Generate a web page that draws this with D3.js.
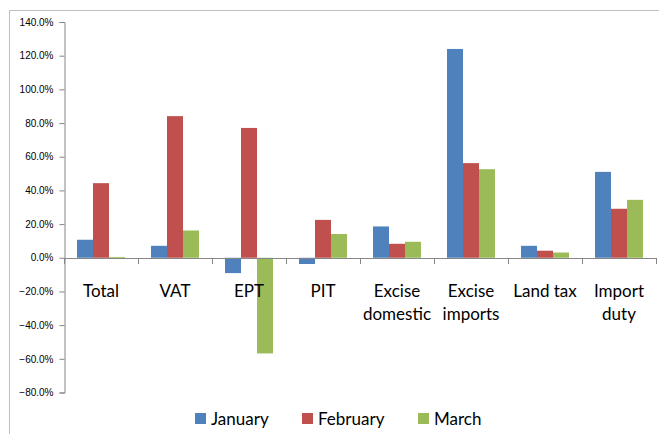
<!DOCTYPE html>
<html>
<head>
<meta charset="utf-8">
<script src="https://cdn.jsdelivr.net/npm/d3@7"></script>
<style>
  body { margin: 0; background: #fff; }
  svg { display: block; }
</style>
</head>
<body>
<script>
// data
let categories = ["Total", "VAT", "EPT", "PIT", "Excise domestic", "Excise imports", "Land tax", "Import duty"];
let catLines = [["Total"], ["VAT"], ["EPT"], ["PIT"], ["Excise", "domestic"], ["Excise", "imports"], ["Land tax"], ["Import", "duty"]];
let series = ["January", "February", "March"];
let january = [0.107, 0.071, -0.091, -0.037, 0.186, 1.24, 0.071, 0.51];
let february = [0.443, 0.841, 0.771, 0.225, 0.083, 0.562, 0.042, 0.291];
let march = [0.005, 0.162, -0.568, 0.141, 0.095, 0.526, 0.031, 0.344];
let yTicks = [-0.8, -0.6, -0.4, -0.2, 0, 0.2, 0.4, 0.6, 0.8, 1.0, 1.2, 1.4];
let colors = ["#4F81BD", "#C0504D", "#9BBB59"];

let width = 659;
let height = 434;
let values = [january, february, march];

let svg = d3.select("body")
            .append("svg")
            .attr("width", width)
            .attr("height", height);

// outer chart frame (only left and top are visible in the crop)
svg.append("path")
   .attr("d", "M9.5,434 V10.5 H659")
   .attr("fill", "none")
   .attr("stroke", "#bfbfbf")
   .attr("stroke-width", 1);

let x = d3.scaleBand()
          .domain(categories)
          .range([64, 656]);

let xs = d3.scaleBand()
           .domain(series)
           .range([13, x.bandwidth() - 13]);

let y = d3.scaleLinear()
          .domain([-0.8, 1.4])
          .range([392.5, 22]);

// bars
series.forEach(function(s, si) {
  svg.append("g")
     .selectAll("rect")
     .data(categories.map((c, i) => ({cat: c, v: values[si][i]})))
     .enter().append("rect")
             .attr("x", d => x(d.cat) + xs(s))
             .attr("width", xs.bandwidth())
             .attr("y", d => y(Math.max(0, d.v)))
             .attr("height", d => Math.abs(y(d.v) - y(0)))
             .attr("fill", colors[si]);
});

// y axis
let yAxis = svg.append("g")
               .attr("transform", "translate(64.5,0)")
               .call(d3.axisLeft(y).tickValues(yTicks).tickFormat(d3.format(".1%")).tickSize(5).tickPadding(6));
yAxis.select(".domain").attr("stroke", "#868686");
yAxis.selectAll(".tick line").attr("stroke", "#868686");
yAxis.selectAll(".tick text")
     .attr("font-family", "Liberation Sans, Arial, sans-serif")
     .attr("font-size", 10)
     .attr("fill", "#000");

// x axis at zero with boundary ticks
let xAxis = svg.append("g");
xAxis.append("line")
     .attr("x1", 64).attr("x2", 656)
     .attr("y1", Math.round(y(0)) + 0.5).attr("y2", Math.round(y(0)) + 0.5)
     .attr("stroke", "#868686");
xAxis.selectAll(".bound")
     .data(categories.concat(["end"]))
     .enter().append("line")
             .attr("x1", (d, i) => Math.round(64 + i * x.bandwidth()) + 0.5)
             .attr("x2", (d, i) => Math.round(64 + i * x.bandwidth()) + 0.5)
             .attr("y1", Math.round(y(0)))
             .attr("y2", Math.round(y(0)) + 6)
             .attr("stroke", "#868686");

// category labels
let labels = svg.append("g")
                .selectAll("text")
                .data(categories)
                .enter().append("text")
                        .attr("x", d => x(d) + x.bandwidth() / 2)
                        .attr("y", 297)
                        .attr("text-anchor", "middle")
                        .attr("font-family", "Lato, sans-serif")
                        .attr("font-size", 17)
                        .attr("fill", "#000");
labels.each(function(d, i) {
  d3.select(this).selectAll("tspan")
    .data(catLines[i])
    .enter().append("tspan")
            .attr("x", x(d) + x.bandwidth() / 2)
            .attr("dy", (t, j) => j == 0 ? 0 : 23)
            .text(t => t);
});

// legend
let legendX = [195, 302, 418];
let legend = svg.append("g")
                .selectAll("g")
                .data(series)
                .enter().append("g")
                        .attr("transform", (d, i) => `translate(${legendX[i]},413)`);
legend.append("rect")
      .attr("width", 11)
      .attr("height", 11)
      .attr("fill", (d, i) => colors[i]);
legend.append("text")
      .attr("x", 16)
      .attr("y", 12)
      .attr("font-family", "Lato, sans-serif")
      .attr("font-size", 17)
      .attr("fill", "#000")
      .text(d => d);
</script>
</body>
</html>
